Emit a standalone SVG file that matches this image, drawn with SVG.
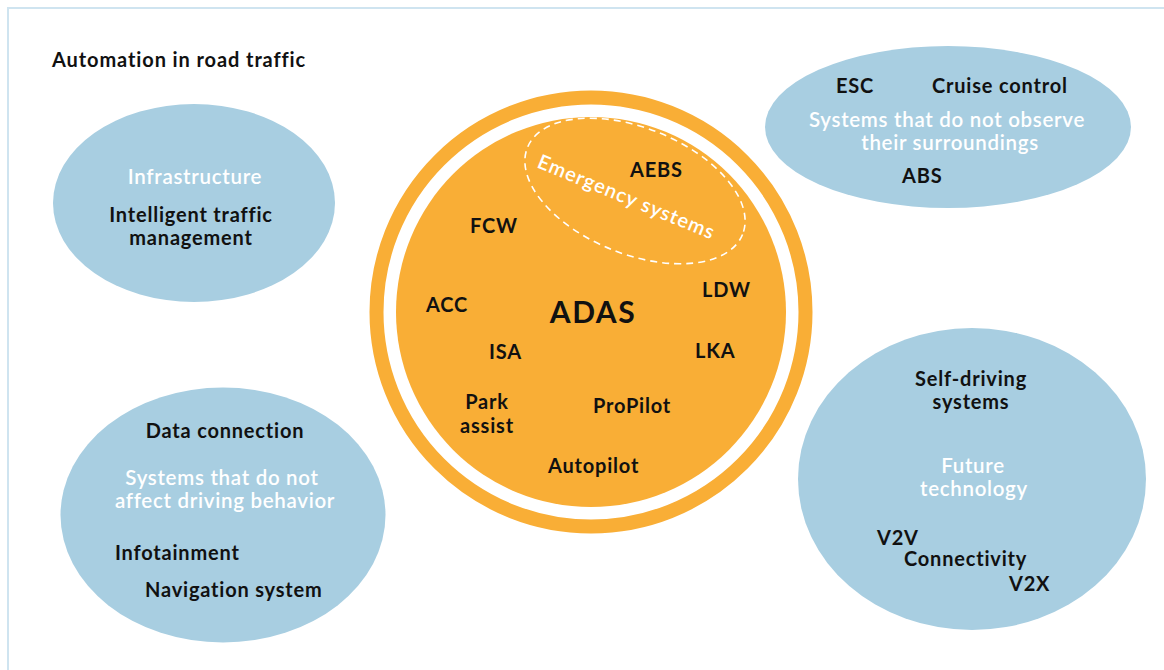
<svg xmlns="http://www.w3.org/2000/svg" width="1164" height="670" viewBox="0 0 1164 670">
<style>
.bg{fill:#ffffff}
.frame{fill:none;stroke:#cfe4f0;stroke-width:2}
.blue{fill:#a8cee1}
.orange{fill:#f9ae36}
.ring{fill:none;stroke:#f9ae36;stroke-width:14}
.dash{fill:none;stroke:#ffffff;stroke-width:1.6;stroke-dasharray:7 5}
text{font-family:Lato,"Noto Sans","Liberation Sans",sans-serif}
.lbl{font-size:20px;font-weight:700;fill:#111111;letter-spacing:0.8px}
.ttl{font-size:20.5px;font-weight:600;fill:#ffffff;letter-spacing:0.7px}
.mid{text-anchor:middle}
</style>
<rect class="bg" x="0" y="0" width="1164" height="670"/>
<rect class="frame" x="8" y="8" width="1200" height="700"/>
<text class="lbl" x="52" y="67" style="letter-spacing:0.9px">Automation in road traffic</text>

<g id="infrastructure">
<ellipse class="blue" cx="194" cy="203" rx="141" ry="99"/>
<text class="ttl mid" x="195" y="184">Infrastructure</text>
<text class="lbl mid" x="191" y="222">Intelligent traffic</text>
<text class="lbl mid" x="191" y="245">management</text>
</g>

<g id="no-driving-effect">
<ellipse class="blue" cx="223" cy="515" rx="162.5" ry="127.5"/>
<text class="lbl mid" x="225" y="438">Data connection</text>
<text class="ttl mid" x="222" y="485">Systems that do not</text>
<text class="ttl mid" x="225" y="508">affect driving behavior</text>
<text class="lbl" x="115" y="560">Infotainment</text>
<text class="lbl" x="145" y="597">Navigation system</text>
</g>

<g id="no-observe">
<ellipse class="blue" cx="948" cy="127" rx="183" ry="81"/>
<text class="lbl" x="836" y="93">ESC</text>
<text class="lbl" x="932" y="93">Cruise control</text>
<text class="ttl mid" x="947" y="127">Systems that do not observe</text>
<text class="ttl mid" x="950" y="150">their surroundings</text>
<text class="lbl" x="902" y="183">ABS</text>
</g>

<g id="future">
<ellipse class="blue" cx="972" cy="479" rx="174" ry="151"/>
<text class="lbl mid" x="971" y="386">Self-driving</text>
<text class="lbl mid" x="971" y="409">systems</text>
<text class="ttl mid" x="973" y="473">Future</text>
<text class="ttl mid" x="974" y="496">technology</text>
<text class="lbl" x="877" y="545">V2V</text>
<text class="lbl" x="904" y="566">Connectivity</text>
<text class="lbl" x="1009" y="591">V2X</text>
</g>

<g id="adas">
<circle class="ring" cx="591" cy="312" r="214.5"/>
<circle class="orange" cx="591" cy="312" r="195"/>
<text class="lbl mid" x="593" y="323" style="font-size:30px;letter-spacing:1.5px">ADAS</text>
<text class="lbl" x="470" y="233">FCW</text>
<text class="lbl" x="426" y="312">ACC</text>
<text class="lbl" x="702" y="297">LDW</text>
<text class="lbl" x="489" y="359">ISA</text>
<text class="lbl" x="695" y="358">LKA</text>
<text class="lbl mid" x="487" y="409">Park</text>
<text class="lbl mid" x="487" y="433">assist</text>
<text class="lbl" x="593" y="413">ProPilot</text>
<text class="lbl" x="548" y="473">Autopilot</text>
</g>

<g id="emergency">
<ellipse class="dash" cx="635" cy="191" rx="116" ry="63" transform="rotate(22 635 191)"/>
<text class="ttl" x="0" y="0" transform="translate(536 167) rotate(22.5)" style="font-size:20px;letter-spacing:1px">Emergency systems</text>
<text class="lbl" x="630" y="177">AEBS</text>
</g>

<g id="connectors"></g>
</svg>
